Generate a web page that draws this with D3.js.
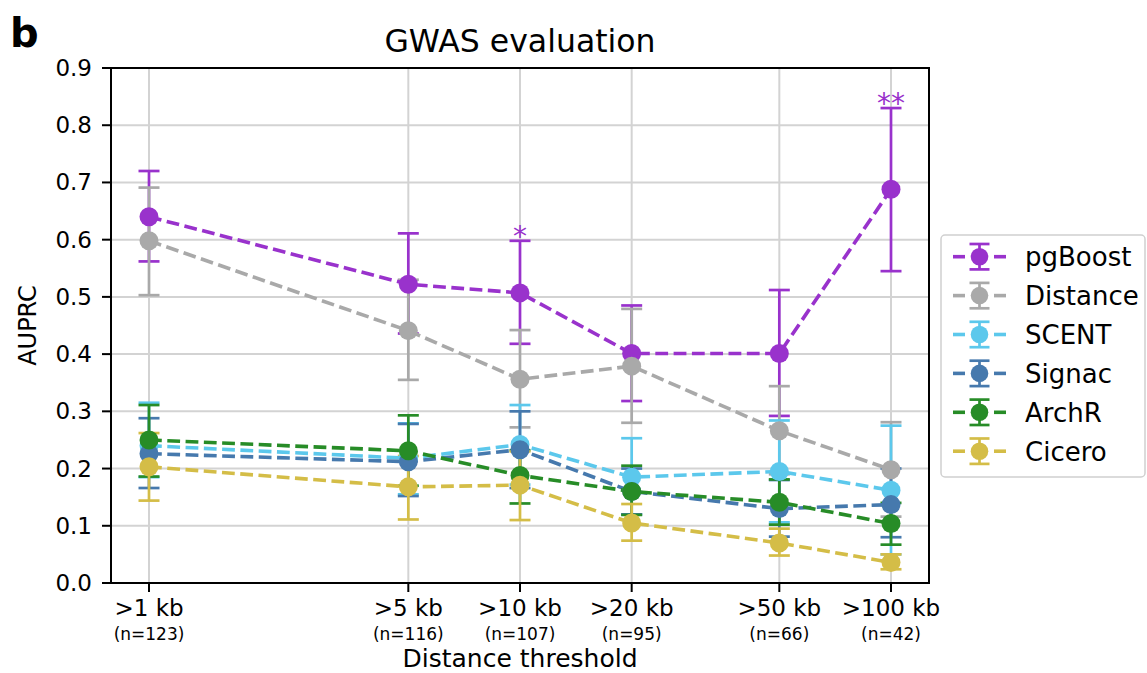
<!DOCTYPE html>
<html><head><meta charset="utf-8">
<script src="https://cdn.jsdelivr.net/npm/d3@7"></script>
<style>body{margin:0;background:#fff;} svg{font-family:"DejaVu Sans",sans-serif;}</style>
</head><body><svg id="c" width="1147" height="673"></svg>
<script>
const thresholds = [1, 5, 10, 20, 50, 100];
const tickLabels = [">1 kb", ">5 kb", ">10 kb", ">20 kb", ">50 kb", ">100 kb"];
const nLabels = ["(n=123)", "(n=116)", "(n=107)", "(n=95)", "(n=66)", "(n=42)"];
const seriesNames = ["pgBoost", "Distance", "SCENT", "Signac", "ArchR", "Cicero"];
const seriesColors = ["#9932cc", "#a9a9a9", "#5cc8ec", "#4679ad", "#278c27", "#d4bd47"];
const pgBoost     = [0.640, 0.522, 0.507, 0.401, 0.401, 0.688];
const pgBoostHi   = [0.720, 0.611, 0.598, 0.485, 0.512, 0.830];
const pgBoostLo   = [0.562, 0.436, 0.418, 0.318, 0.292, 0.545];
const distance    = [0.598, 0.441, 0.356, 0.379, 0.266, 0.198];
const distanceHi  = [0.691, 0.530, 0.442, 0.479, 0.344, 0.281];
const distanceLo  = [0.503, 0.355, 0.272, 0.280, 0.190, 0.116];
const scent       = [0.240, 0.218, 0.242, 0.185, 0.195, 0.162];
const scentHi     = [0.315, 0.279, 0.311, 0.253, 0.284, 0.275];
const scentLo     = [0.185, 0.155, 0.172, 0.120, 0.106, 0.050];
const signac      = [0.226, 0.212, 0.233, 0.160, 0.130, 0.137];
const signacHi    = [0.288, 0.278, 0.300, 0.200, 0.180, 0.200];
const signacLo    = [0.166, 0.152, 0.166, 0.120, 0.081, 0.080];
const archr       = [0.250, 0.231, 0.188, 0.160, 0.141, 0.104];
const archrHi     = [0.311, 0.293, 0.232, 0.205, 0.181, 0.140];
const archrLo     = [0.186, 0.170, 0.139, 0.119, 0.102, 0.067];
const cicero      = [0.203, 0.168, 0.171, 0.105, 0.070, 0.036];
const ciceroHi    = [0.262, 0.222, 0.230, 0.138, 0.095, 0.050];
const ciceroLo    = [0.144, 0.111, 0.110, 0.074, 0.048, 0.024];
const yTicks = [0, 0.1, 0.2, 0.3, 0.4, 0.5, 0.6, 0.7, 0.8, 0.9];
const stars = [{i: 2, s: "*"}, {i: 5, s: "**"}];

const vals = [pgBoost, distance, scent, signac, archr, cicero];
const his = [pgBoostHi, distanceHi, scentHi, signacHi, archrHi, ciceroHi];
const los = [pgBoostLo, distanceLo, scentLo, signacLo, archrLo, ciceroLo];

const svg = d3.select("#c");
const L = 111, R = 929, T = 68, B = 583;
const x = d3.scaleLog().domain([1, 100]).range([149, 891]);
const y = d3.scaleLinear().domain([0, 0.9]).range([B, T]);

// grid
const g = svg.append("g");
g.selectAll(".gx").data(thresholds).enter().append("line")
  .attr("x1", d => x(d)).attr("x2", d => x(d)).attr("y1", T).attr("y2", B)
  .attr("stroke", "#d3d3d3").attr("stroke-width", 2);
g.selectAll(".gy").data(yTicks).enter().append("line")
  .attr("x1", L).attr("x2", R).attr("y1", d => y(d)).attr("y2", d => y(d))
  .attr("stroke", "#d3d3d3").attr("stroke-width", 2);

// error bars
const cap = 10.5;
vals.forEach((v, k) => {
  const col = seriesColors[k];
  const eg = svg.append("g").attr("stroke", col).attr("stroke-width", 2.7);
  thresholds.forEach((t, i) => {
    eg.append("line").attr("x1", x(t)).attr("x2", x(t)).attr("y1", y(los[k][i])).attr("y2", y(his[k][i]));
    eg.append("line").attr("x1", x(t) - cap).attr("x2", x(t) + cap).attr("y1", y(los[k][i])).attr("y2", y(los[k][i]));
    eg.append("line").attr("x1", x(t) - cap).attr("x2", x(t) + cap).attr("y1", y(his[k][i])).attr("y2", y(his[k][i]));
  });
});
// lines and markers per series
const line = d3.line().x((d, i) => x(thresholds[i])).y(d => y(d));
vals.forEach((v, k) => {
  svg.append("path").datum(v).attr("d", line).attr("fill", "none")
    .attr("stroke", seriesColors[k]).attr("stroke-width", 3.6).attr("stroke-dasharray", "12.8,5.5");
});
vals.forEach((v, k) => {
  svg.selectAll(null).data(v).enter().append("circle")
    .attr("cx", (d, i) => x(thresholds[i])).attr("cy", d => y(d)).attr("r", 9.5)
    .attr("fill", seriesColors[k]);
});

// stars
svg.selectAll(".star").data(stars).enter().append("text")
  .attr("x", d => x(thresholds[d.i])).attr("y", d => y(pgBoostHi[d.i]) + 5)
  .attr("text-anchor", "middle").attr("font-size", 28).attr("fill", seriesColors[0])
  .text(d => d.s);

// frame
svg.append("rect").attr("x", L).attr("y", T).attr("width", R - L).attr("height", B - T)
  .attr("fill", "none").attr("stroke", "#000").attr("stroke-width", 2);

// y axis ticks
yTicks.forEach(t => {
  svg.append("line").attr("x1", L - 9).attr("x2", L).attr("y1", y(t)).attr("y2", y(t)).attr("stroke", "#000").attr("stroke-width", 2);
  svg.append("text").attr("x", L - 19).attr("y", y(t) + 8).attr("text-anchor", "end")
    .attr("font-size", 23).text(d3.format(".1f")(t));
});
// x axis ticks
thresholds.forEach((t, i) => {
  svg.append("line").attr("x1", x(t)).attr("x2", x(t)).attr("y1", B).attr("y2", B + 9).attr("stroke", "#000").attr("stroke-width", 2);
  svg.append("text").attr("x", x(t)).attr("y", 616).attr("text-anchor", "middle").attr("font-size", 23).text(tickLabels[i]);
  svg.append("text").attr("x", x(t)).attr("y", 639.5).attr("text-anchor", "middle").attr("font-size", 17).text(nLabels[i]);
});

// labels
svg.append("text").attr("x", (L + R) / 2).attr("y", 667).attr("text-anchor", "middle").attr("font-size", 25).text("Distance threshold");
svg.append("text").attr("transform", `translate(36,${(T + B) / 2}) rotate(-90)`).attr("text-anchor", "middle").attr("font-size", 24).text("AUPRC");
svg.append("text").attr("x", (L + R) / 2).attr("y", 52).attr("text-anchor", "middle").attr("font-size", 31.5).text("GWAS evaluation");
svg.append("text").attr("x", 10).attr("y", 47).attr("font-size", 40).attr("font-weight", "bold").text("b");

// legend
const lg = svg.append("g");
lg.append("rect").attr("x", 941).attr("y", 235).attr("width", 204).attr("height", 242).attr("rx", 4)
  .attr("fill", "#fff").attr("stroke", "#d0d0d0").attr("stroke-width", 1.5);
seriesNames.forEach((n, k) => {
  const cy = 256.7 + k * 38.9, cx = 979.5, col = seriesColors[k];
  lg.append("line").attr("x1", 953).attr("x2", 965).attr("y1", cy).attr("y2", cy).attr("stroke", col).attr("stroke-width", 3.6);
  lg.append("line").attr("x1", 994).attr("x2", 1006).attr("y1", cy).attr("y2", cy).attr("stroke", col).attr("stroke-width", 3.6);
  lg.append("line").attr("x1", cx).attr("x2", cx).attr("y1", cy - 12.7).attr("y2", cy + 12.7).attr("stroke", col).attr("stroke-width", 2.7);
  lg.append("line").attr("x1", cx - 10).attr("x2", cx + 10).attr("y1", cy - 12.7).attr("y2", cy - 12.7).attr("stroke", col).attr("stroke-width", 2.7);
  lg.append("line").attr("x1", cx - 10).attr("x2", cx + 10).attr("y1", cy + 12.7).attr("y2", cy + 12.7).attr("stroke", col).attr("stroke-width", 2.7);
  lg.append("circle").attr("cx", cx).attr("cy", cy).attr("r", 8.8).attr("fill", col);
  lg.append("text").attr("x", 1025).attr("y", cy + 9.5).attr("font-size", 26).text(n);
});
</script></body></html>
